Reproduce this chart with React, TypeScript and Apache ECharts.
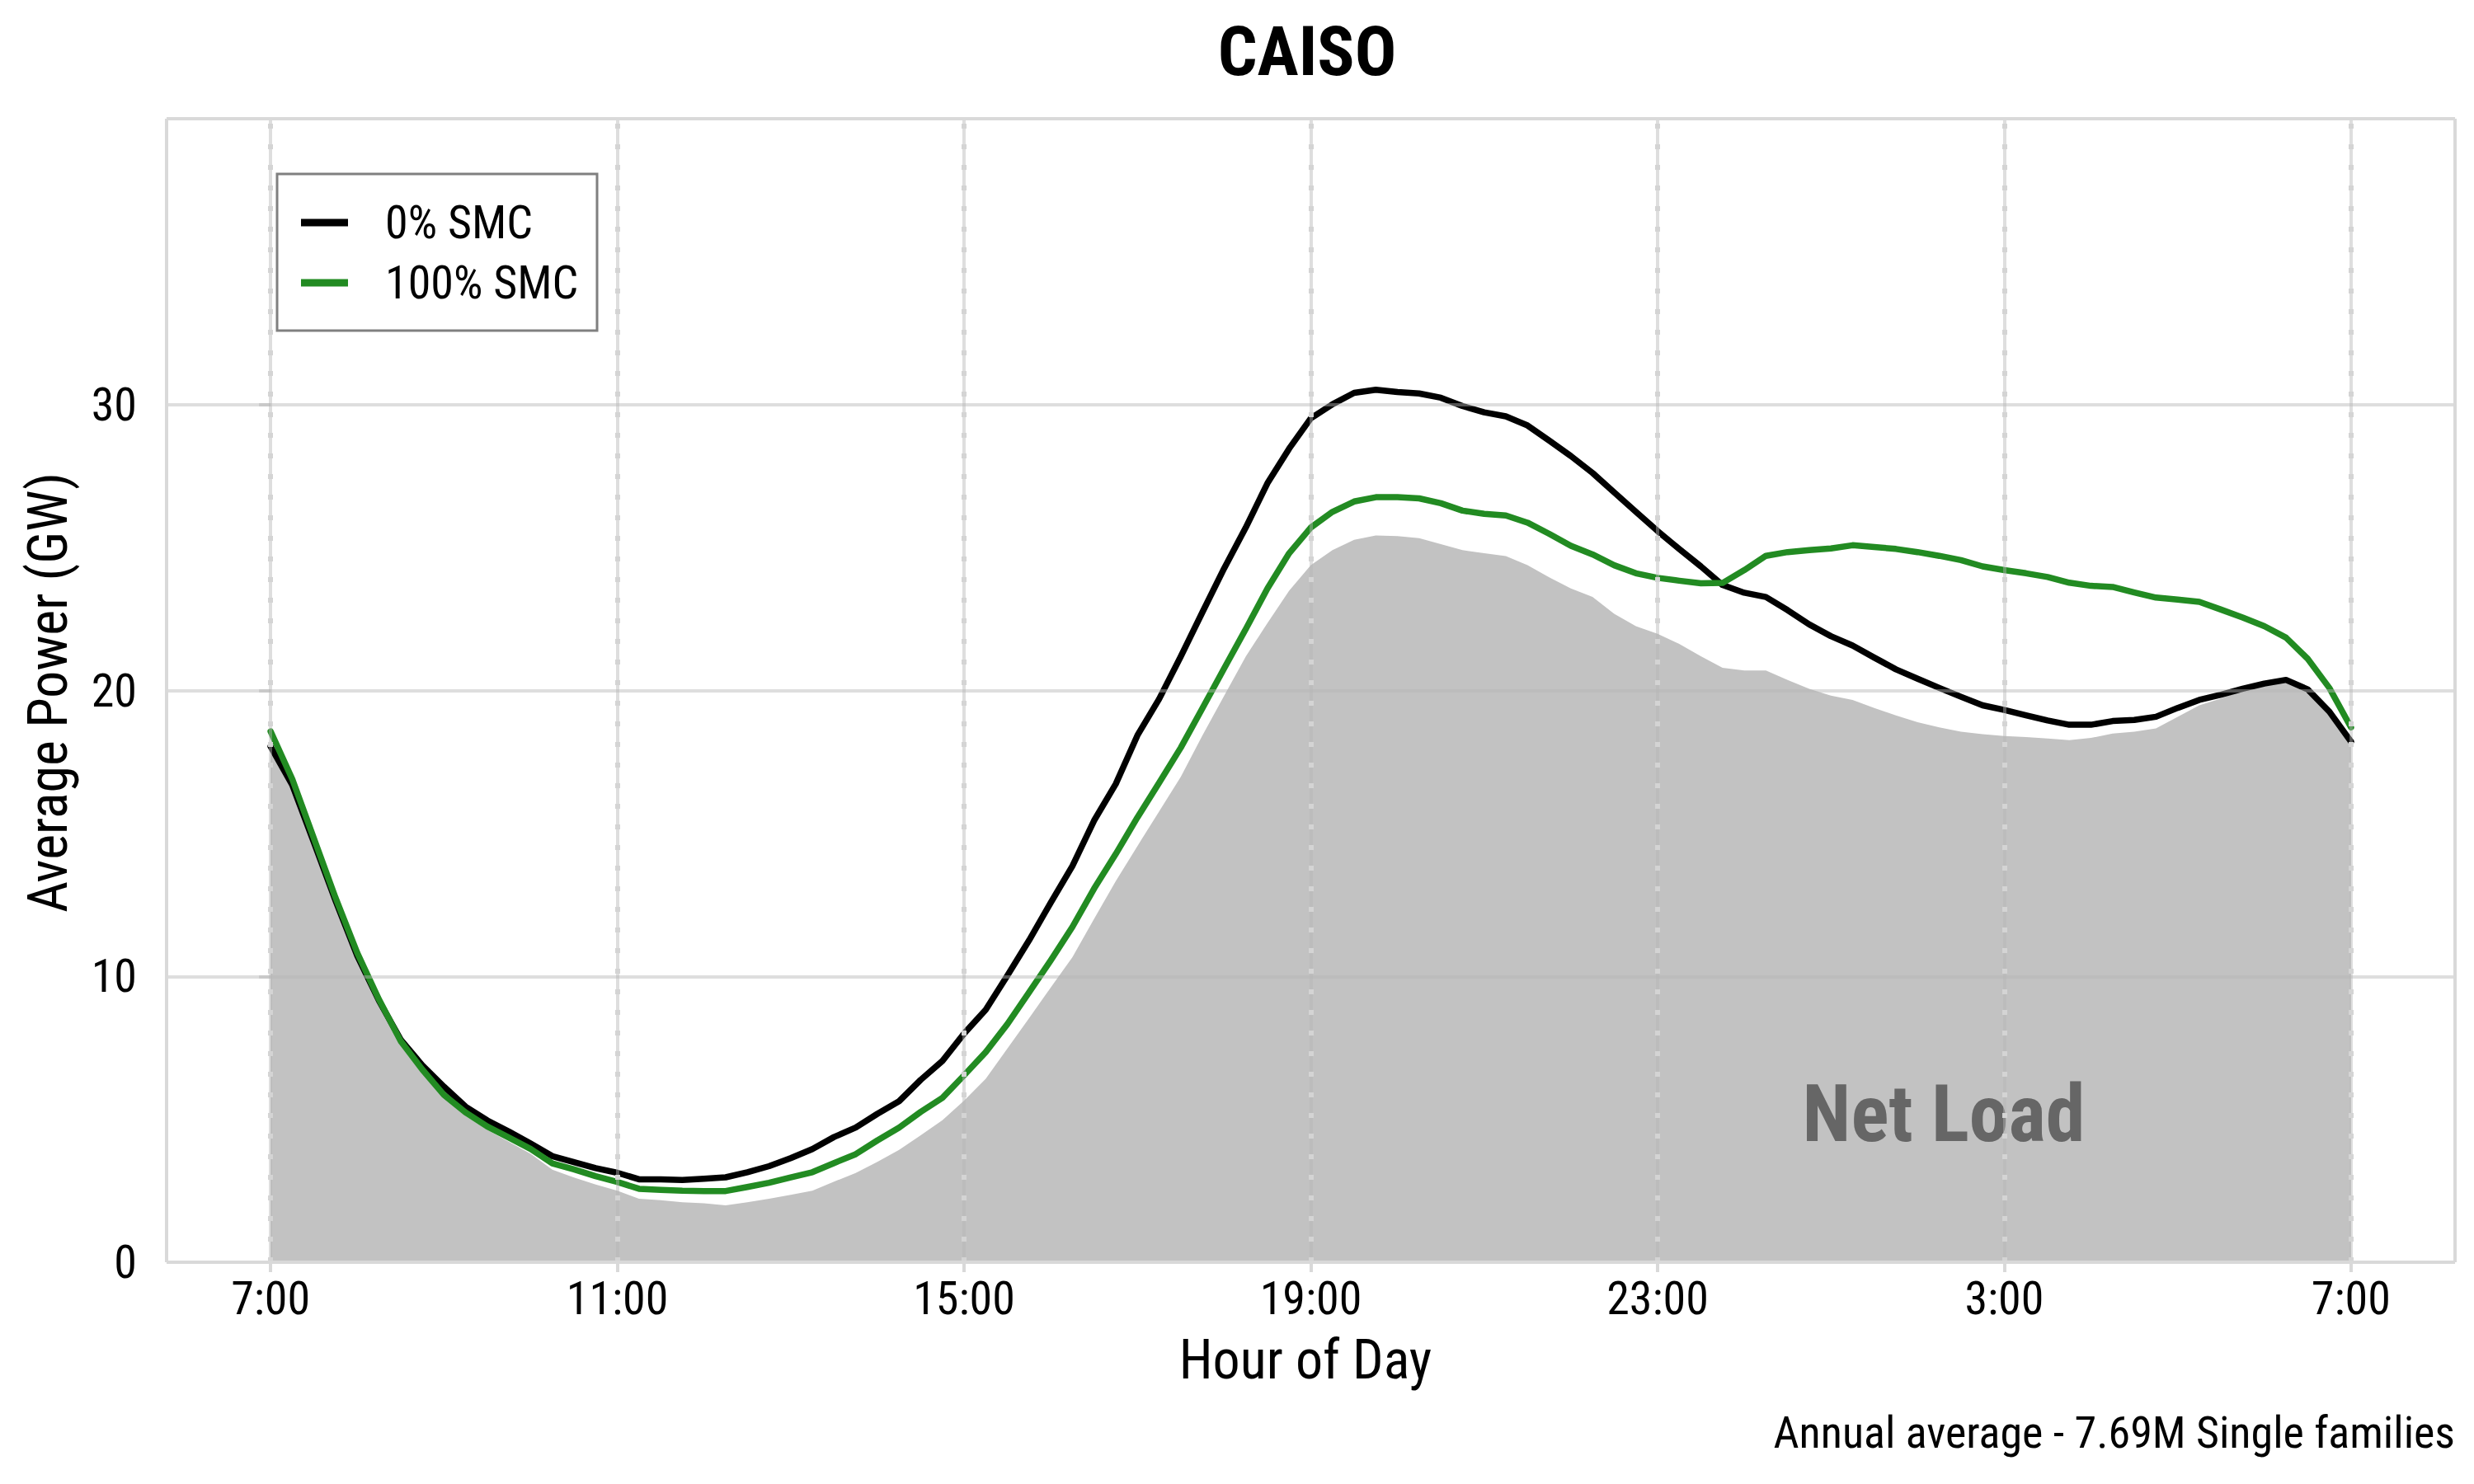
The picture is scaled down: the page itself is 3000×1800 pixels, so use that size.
import React, { useEffect, useRef } from "react";
import * as echarts from "echarts";

const FONT = "'Roboto Condensed', 'Liberation Sans Narrow', 'Arial Narrow', 'DejaVu Sans Condensed', Roboto, sans-serif";

// 15-minute steps from 7:00 to 7:00 next day (hours after 7:00)
const STEPS = 97;
const hours: number[] = Array.from({ length: STEPS }, (_, i) => i / 4);

const tickHours = [0, 4, 8, 12, 16, 20, 24];
const tickLabels = ["7:00", "11:00", "15:00", "19:00", "23:00", "3:00", "7:00"];
const yTicks = [0, 10, 20, 30];

const smc0 = [
  18.04, 16.69, 14.68, 12.64, 10.72, 9.15, 7.79, 6.89, 6.14, 5.44,
  4.96, 4.57, 4.15, 3.71, 3.5, 3.29, 3.13, 2.9, 2.9, 2.88,
  2.92, 2.97, 3.15, 3.36, 3.64, 3.96, 4.38, 4.71, 5.19, 5.63,
  6.38, 7.04, 8.0, 8.83, 10.03, 11.26, 12.58, 13.86, 15.45, 16.73,
  18.43, 19.7, 21.19, 22.74, 24.27, 25.7, 27.25, 28.46, 29.52, 30.01,
  30.41, 30.52, 30.44, 30.39, 30.24, 29.95, 29.73, 29.59, 29.27, 28.74,
  28.2, 27.61, 26.93, 26.25, 25.58, 24.95, 24.34, 23.69, 23.42, 23.27,
  22.81, 22.31, 21.9, 21.57, 21.15, 20.74, 20.41, 20.09, 19.78, 19.48,
  19.32, 19.13, 18.95, 18.8, 18.8, 18.93, 18.97, 19.08, 19.39, 19.67,
  19.85, 20.06, 20.24, 20.37, 20.04, 19.26, 18.21,
];

const smc100 = [
  18.57, 16.9, 14.82, 12.74, 10.82, 9.19, 7.74, 6.74, 5.85, 5.24,
  4.75, 4.36, 3.96, 3.46, 3.25, 3.01, 2.81, 2.57, 2.53, 2.5,
  2.49, 2.49, 2.63, 2.78, 2.97, 3.15, 3.47, 3.78, 4.26, 4.71,
  5.26, 5.75, 6.54, 7.35, 8.33, 9.44, 10.56, 11.73, 13.07, 14.28,
  15.56, 16.77, 18.0, 19.38, 20.77, 22.15, 23.57, 24.8, 25.7, 26.25,
  26.61, 26.76, 26.76, 26.72, 26.55, 26.29, 26.18, 26.12, 25.87, 25.48,
  25.06, 24.76, 24.38, 24.1, 23.94, 23.84, 23.75, 23.76, 24.21, 24.71,
  24.84, 24.91, 24.97, 25.08, 25.02, 24.95, 24.84, 24.71, 24.56, 24.34,
  24.21, 24.1, 23.97, 23.77, 23.66, 23.62, 23.43, 23.25, 23.18, 23.1,
  22.83, 22.55, 22.25, 21.85, 21.11, 20.09, 18.71,
];

const netLoad = [
  17.94, 16.49, 14.4, 12.47, 10.57, 9.06, 7.67, 6.68, 5.79, 5.11,
  4.63, 4.21, 3.79, 3.24, 2.96, 2.72, 2.5, 2.22, 2.17, 2.1,
  2.06, 1.99, 2.1, 2.22, 2.36, 2.5, 2.82, 3.12, 3.51, 3.93,
  4.44, 4.97, 5.65, 6.42, 7.48, 8.54, 9.61, 10.67, 12.01, 13.33,
  14.56, 15.77, 16.98, 18.43, 19.81, 21.19, 22.36, 23.49, 24.38, 24.91,
  25.27, 25.42, 25.4, 25.33, 25.12, 24.91, 24.8, 24.7, 24.38, 23.96,
  23.57, 23.27, 22.68, 22.25, 21.98, 21.63, 21.2, 20.79, 20.7, 20.7,
  20.37, 20.06, 19.82, 19.67, 19.39, 19.13, 18.89, 18.71, 18.56, 18.47,
  18.41, 18.37, 18.32, 18.26, 18.34, 18.49, 18.56, 18.67, 19.08, 19.48,
  19.72, 20.0, 20.22, 20.33, 20.0, 19.22, 18.15,
];

const X_MIN = -1.2;
const X_MAX = 25.2;
const Y_MIN = 0;
const Y_MAX = 40;

const GRID_LINE = "rgba(182,182,182,0.45)";
const GRID_DOT = "#d4d4d4";
const BORDER = "#d9d9d9";

function App() {
  const ref = useRef<HTMLDivElement>(null);

  useEffect(() => {
    if (!ref.current) return;
    const chart = echarts.init(ref.current, null, { renderer: "svg", width: 3000, height: 1800 });

    const toPairs = (vals: number[]) => hours.map((h, i) => [h, vals[i]]);

    const gridMarks: any[] = [];
    [10, 20, 30].forEach((v) =>
      gridMarks.push({ yAxis: v, lineStyle: { color: GRID_LINE, width: 4, type: "solid" } })
    );
    tickHours.forEach((h) => {
      gridMarks.push({ xAxis: h, lineStyle: { color: GRID_LINE, width: 4, type: "solid" } });
      gridMarks.push({ xAxis: h, lineStyle: { color: GRID_DOT, width: 6, type: [6, 19] } });
    });
    // panel border on top
    gridMarks.push({ yAxis: Y_MIN, lineStyle: { color: BORDER, width: 4, type: "solid" } });
    gridMarks.push({ yAxis: Y_MAX, lineStyle: { color: BORDER, width: 4, type: "solid" } });
    gridMarks.push({ xAxis: X_MIN, lineStyle: { color: BORDER, width: 4, type: "solid" } });
    gridMarks.push({ xAxis: X_MAX, lineStyle: { color: BORDER, width: 4, type: "solid" } });

    const option: any = {
      animation: false,
      backgroundColor: "#ffffff",
      grid: { left: 202, right: 23, top: 144, bottom: 269, show: false },
      xAxis: {
        type: "value",
        min: X_MIN,
        max: X_MAX,
        axisLine: { show: false },
        splitLine: { show: false },
        axisTick: {
          show: true,
          customValues: tickHours,
          length: 12,
          lineStyle: { color: BORDER, width: 4 },
        },
        axisLabel: {
          customValues: tickHours,
          formatter: (v: number) => {
            const idx = tickHours.indexOf(Math.round(v));
            return idx >= 0 ? tickLabels[idx] : "";
          },
          fontSize: 56,
          fontFamily: FONT,
          color: "#000",
          margin: 16,
        },
      },
      yAxis: {
        type: "value",
        min: Y_MIN,
        max: Y_MAX,
        axisLine: { show: false },
        splitLine: { show: false },
        axisTick: {
          show: true,
          customValues: yTicks,
          length: 14,
          lineStyle: { color: BORDER, width: 4 },
        },
        axisLabel: {
          customValues: yTicks,
          fontSize: 56,
          fontFamily: FONT,
          color: "#000",
          margin: 36,
        },
      },
      legend: {
        show: true,
        orient: "vertical",
        left: 365,
        top: 242,
        padding: 0,
        itemWidth: 57,
        itemHeight: 9,
        itemGap: 17,
        icon: "rect",
        data: ["0% SMC", "100% SMC"],
        textStyle: {
          fontSize: 56,
          lineHeight: 56,
          fontFamily: FONT,
          color: "#000",
          padding: [0, 0, 0, 40],
        },
        z: 6,
      },
      graphic: [
        {
          type: "rect",
          shape: { x: 336, y: 211, width: 388, height: 190 },
          style: { fill: "#ffffff", stroke: "#808080", lineWidth: 3 },
          z: 5,
        },
        {
          type: "text",
          x: 1585,
          y: 62,
          style: {
            text: "CAISO",
            fill: "#000",
            fontSize: 84,
            fontWeight: "bold",
            fontFamily: FONT,
            align: "center",
            verticalAlign: "middle",
          },
          z: 6,
        },
        {
          type: "text",
          x: 1583,
          y: 1649,
          style: {
            text: "Hour of Day",
            fill: "#000",
            fontSize: 66,
            fontFamily: FONT,
            align: "center",
            verticalAlign: "middle",
          },
          z: 6,
        },
        {
          type: "text",
          x: 58,
          y: 840,
          rotation: Math.PI / 2,
          style: {
            text: "Average Power (GW)",
            fill: "#000",
            fontSize: 66,
            fontFamily: FONT,
            align: "center",
            verticalAlign: "middle",
          },
          z: 6,
        },
        {
          type: "text",
          x: 2977,
          y: 1737,
          style: {
            text: "Annual average - 7.69M Single families",
            fill: "#000",
            fontSize: 54,
            fontFamily: FONT,
            align: "right",
            verticalAlign: "middle",
          },
          z: 6,
        },
        {
          type: "text",
          x: 2357,
          y: 1351,
          style: {
            text: "Net Load",
            fill: "#666666",
            fontSize: 96,
            fontWeight: "bold",
            fontFamily: FONT,
            align: "center",
            verticalAlign: "middle",
          },
          z: 2,
        },
      ],
      series: [
        {
          name: "Net Load",
          type: "line",
          data: toPairs(netLoad),
          showSymbol: false,
          symbol: "none",
          silent: true,
          lineStyle: { width: 0, opacity: 0 },
          areaStyle: { color: "#c2c2c2", opacity: 1 },
          z: 1,
        },
        {
          name: "0% SMC",
          type: "line",
          data: toPairs(smc0),
          showSymbol: false,
          symbol: "none",
          color: "#000000",
          lineStyle: { width: 7.5, color: "#000000", join: "round", cap: "round" },
          z: 3,
        },
        {
          name: "100% SMC",
          type: "line",
          data: toPairs(smc100),
          showSymbol: false,
          symbol: "none",
          color: "#228B22",
          lineStyle: { width: 7.5, color: "#228B22", join: "round", cap: "round" },
          z: 3,
        },
        {
          name: "grid",
          type: "line",
          data: [],
          silent: true,
          z: 4,
          markLine: {
            silent: true,
            symbol: "none",
            label: { show: false },
            emphasis: { disabled: true },
            data: gridMarks,
          },
        },
      ],
    };

    chart.setOption(option);
    return () => chart.dispose();
  }, []);

  return (
    <div
      ref={ref}
      style={{ position: "fixed", left: 0, top: 0, width: 3000, height: 1800, background: "#fff" }}
    />
  );
}

export default App;
